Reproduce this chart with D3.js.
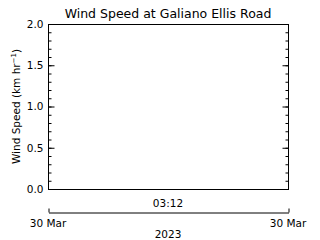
<!DOCTYPE html>
<html>
<head>
<meta charset="utf-8">
<script src="https://cdn.jsdelivr.net/npm/d3@7"></script>
<style>
  body { margin: 0; background: #fff; }
  text { font-family: "DejaVu Sans", sans-serif; fill: #000; }
</style>
</head>
<body>
<svg id="chart" width="320" height="240"></svg>
<script>
// data (station reported nothing for this window)
var times = [],
    speeds = [],
    yMajor = [0, 0.5, 1.0, 1.5, 2.0],
    timeStart = new Date(2023, 2, 30, 0, 0),
    timeEnd = new Date(2023, 2, 30, 6, 24),
    midTick = new Date(2023, 2, 30, 3, 12),
    title = "Wind Speed at Galiano Ellis Road",
    yearLabel = "2023";

var svg = d3.select("#chart"),
    plotL = 48, plotR = 288, plotT = 24, plotB = 189;

var x = d3.scaleTime().domain([timeStart, timeEnd]).range([plotL, plotR]),
    y = d3.scaleLinear().domain([0, 2]).range([plotB, plotT]);

svg.append("rect").attr("width", 320).attr("height", 240).attr("fill", "#fff");

// title
svg.append("text")
    .attr("x", (plotL + plotR) / 2).attr("y", 18)
    .attr("text-anchor", "middle")
    .style("font-size", "12.5px")
    .text(title);

// frame
svg.append("rect")
    .attr("x", plotL + 0.5).attr("y", plotT + 0.5)
    .attr("width", plotR - plotL).attr("height", plotB - plotT)
    .attr("fill", "none").attr("stroke", "#000");

var minor = d3.range(0, 2.0001, 0.1);

// left axis, ticks pointing in
var yl = svg.append("g").attr("transform", "translate(" + (plotL + 0.5) + ",0)")
    .call(d3.axisLeft(y).tickValues(yMajor).tickFormat(d3.format(".1f"))
        .tickSizeInner(-6).tickSizeOuter(0).tickPadding(5));
svg.append("g").attr("transform", "translate(" + (plotL + 0.5) + ",0)")
    .call(d3.axisLeft(y).tickValues(minor).tickFormat("").tickSizeInner(-3).tickSizeOuter(0));

// right axis mirrors
svg.append("g").attr("transform", "translate(" + (plotR + 0.5) + ",0)")
    .call(d3.axisRight(y).tickValues(yMajor).tickFormat("").tickSizeInner(-6).tickSizeOuter(0));
svg.append("g").attr("transform", "translate(" + (plotR + 0.5) + ",0)")
    .call(d3.axisRight(y).tickValues(minor).tickFormat("").tickSizeInner(-3).tickSizeOuter(0));

svg.selectAll(".domain").remove();
svg.selectAll(".tick line").attr("stroke", "#000");
yl.selectAll("text").style("font-size", "10.5px").style("font-family", "DejaVu Sans");

// y label
svg.append("text")
    .attr("transform", "translate(20," + (plotT + plotB) / 2 + ") rotate(-90)")
    .attr("text-anchor", "middle")
    .style("font-size", "10.5px")
    .html('Wind Speed (km hr<tspan dy="-4" style="font-size:7px">\u22121</tspan><tspan dy="4">)</tspan>');

// empty series line
svg.append("path")
    .datum(times.map(function(t, i) { return [t, speeds[i]]; }))
    .attr("fill", "none").attr("stroke", "#000")
    .attr("d", d3.line().x(function(d) { return x(d[0]); }).y(function(d) { return y(d[1]); }));

// time label under frame
var tfmt = d3.timeFormat("%H:%M");
svg.append("text")
    .attr("x", x(midTick)).attr("y", plotB + 18)
    .attr("text-anchor", "middle").style("font-size", "10.5px")
    .text(tfmt(midTick));

// date axis below
var dateY = 212.5;
var dx = svg.append("g").attr("transform", "translate(0.5," + dateY + ")")
    .call(d3.axisTop(x).tickValues([timeStart, timeEnd]).tickFormat("")
        .tickSizeInner(4).tickSizeOuter(0));
dx.select(".domain").attr("stroke", "#000");
dx.selectAll(".tick line").attr("stroke", "#000");

var dfmt = d3.timeFormat("%d %b");
svg.selectAll(".datelab").data([timeStart, timeEnd]).enter().append("text")
    .attr("x", function(d) { return x(d); }).attr("y", dateY + 14)
    .attr("text-anchor", "middle").style("font-size", "10.5px")
    .text(function(d) { return dfmt(d); });

svg.append("text")
    .attr("x", x(midTick)).attr("y", 238)
    .attr("text-anchor", "middle").style("font-size", "10.5px")
    .text(yearLabel);
</script>
</body>
</html>
